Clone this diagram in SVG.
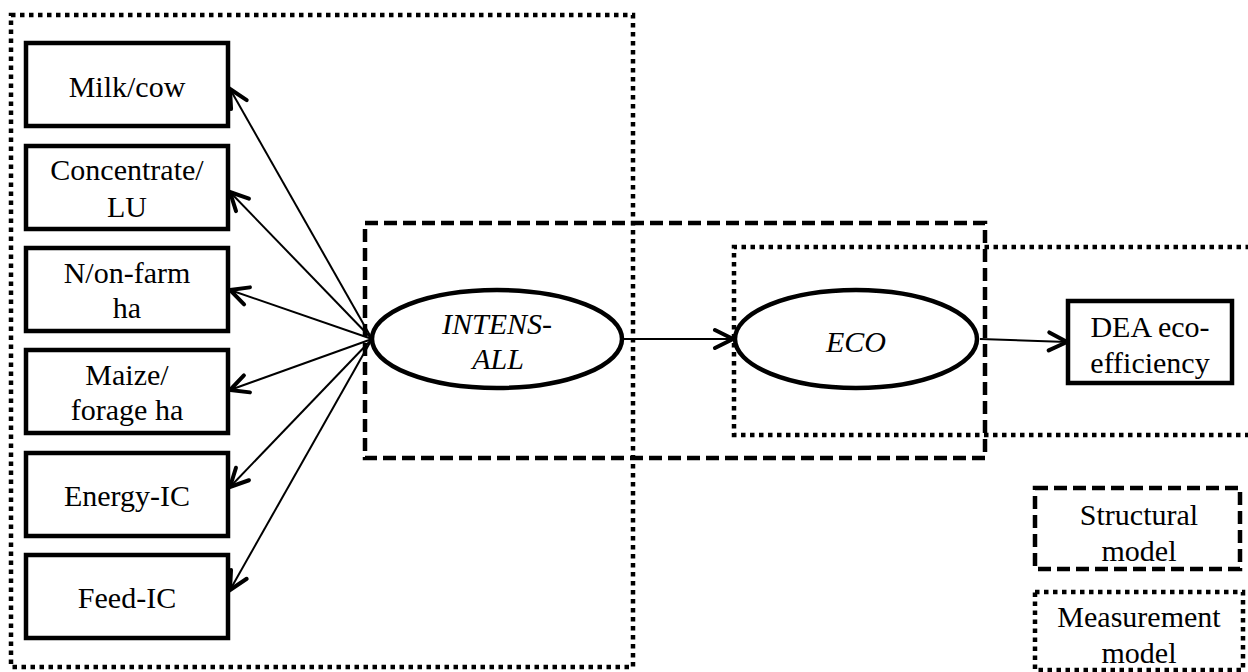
<svg xmlns="http://www.w3.org/2000/svg" width="1248" height="672" viewBox="0 0 1248 672">
<style>
  .box{fill:#fff;stroke:#000;stroke-width:4.5}
  .ell{fill:#fff;stroke:#000;stroke-width:4.5}
  .dot{fill:none;stroke:#000;stroke-width:4.5;stroke-dasharray:4.5 4.5}
  .dash{fill:none;stroke:#000;stroke-width:4.5;stroke-dasharray:13 6}
  .t{font-family:'Liberation Serif','Times New Roman',serif;font-size:30px;fill:#000;text-anchor:middle}
  .i{font-style:italic}
  .c{fill:none;stroke:#000;stroke-width:2}
</style>
<defs>
  <marker id="ah" markerUnits="userSpaceOnUse" viewBox="0 0 24 24" refX="21" refY="12" markerWidth="24" markerHeight="24" orient="auto">
    <path d="M3,3 L21,12 L3,21" fill="none" stroke="#000" stroke-width="4" stroke-linecap="round"/>
  </marker>
</defs>
<rect width="1248" height="672" fill="#fff"/>

<g id="groups">
  <rect class="dot" x="11" y="15" width="622" height="652"/>
  <path class="dot" d="M1250,247 H734 V435 H1250"/>
  <rect class="dash" x="365" y="223" width="620" height="235"/>
</g>

<g id="n-milk"><rect class="box" x="26" y="43" width="202" height="83"/><text class="t" x="127" y="97">Milk/cow</text></g>
<g id="n-conc"><rect class="box" x="26" y="146" width="202" height="83"/><text class="t" x="127" y="180">Concentrate/</text><text class="t" x="127" y="217">LU</text></g>
<g id="n-n"><rect class="box" x="26" y="248" width="202" height="83"/><text class="t" x="127" y="283">N/on-farm</text><text class="t" x="127" y="318">ha</text></g>
<g id="n-maize"><rect class="box" x="26" y="350" width="202" height="83"/><text class="t" x="127" y="385">Maize/</text><text class="t" x="127" y="420">forage ha</text></g>
<g id="n-energy"><rect class="box" x="26" y="453" width="202" height="83"/><text class="t" x="127" y="506">Energy-IC</text></g>
<g id="n-feed"><rect class="box" x="26" y="555" width="202" height="83"/><text class="t" x="127" y="608">Feed-IC</text></g>

<g id="connectors">
  <line class="c" x1="372" y1="339" x2="230" y2="89" marker-end="url(#ah)"/>
  <line class="c" x1="372" y1="339" x2="230" y2="192" marker-end="url(#ah)"/>
  <line class="c" x1="372" y1="339" x2="230" y2="290" marker-end="url(#ah)"/>
  <line class="c" x1="372" y1="339" x2="230" y2="390" marker-end="url(#ah)"/>
  <line class="c" x1="372" y1="339" x2="230" y2="487" marker-end="url(#ah)"/>
  <line class="c" x1="372" y1="339" x2="230" y2="590" marker-end="url(#ah)"/>
  <line class="c" x1="622" y1="339" x2="733" y2="339" marker-end="url(#ah)"/>
  <line class="c" x1="980" y1="339" x2="1067" y2="342" marker-end="url(#ah)"/>
</g>

<g id="n-intens"><ellipse class="ell" cx="497" cy="339" rx="125" ry="49"/><text class="t i" x="497" y="334">INTENS-</text><text class="t i" x="498" y="369">ALL</text></g>
<g id="n-eco"><ellipse class="ell" cx="856" cy="339" rx="121" ry="49"/><text class="t i" x="856" y="352">ECO</text></g>
<g id="n-dea"><rect class="box" x="1068" y="301" width="164" height="82"/><text class="t" x="1150" y="337">DEA eco-</text><text class="t" x="1150" y="373">efficiency</text></g>

<g id="legend">
  <rect class="dash" x="1035" y="488" width="205" height="81"/>
  <text class="t" x="1139" y="525">Structural</text><text class="t" x="1139" y="561">model</text>
  <rect class="dot" x="1035" y="592" width="208" height="78"/>
  <text class="t" x="1139" y="627">Measurement</text><text class="t" x="1139" y="663">model</text>
</g>
</svg>
